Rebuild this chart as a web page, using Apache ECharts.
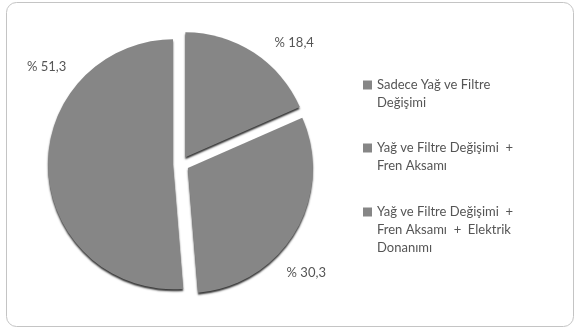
<!DOCTYPE html>
<html>
<head>
<meta charset="utf-8">
<script src="https://cdn.jsdelivr.net/npm/echarts@6/dist/echarts.min.js"></script>
<style>
html,body{margin:0;padding:0;background:#fff;}
#chart{width:575px;height:329px;}
</style>
</head>
<body>
<div id="chart"></div>
<script>
const categories = [
  'Sadece Yağ ve Filtre\nDeğişimi',
  'Yağ ve Filtre Değişimi  +\nFren Aksamı',
  'Yağ ve Filtre Değişimi  +\nFren Aksamı  +  Elektrik\nDonanımı'
];
const values = [18.4, 30.3, 51.3];
const valueLabels = ['% 18,4', '% 30,3', '% 51,3'];

const FONT = 'Lato';
const TXT = '#555555';
const SLICE = '#868686';
const CX = 181, CY = 164, R = 125;
// label placement (angle clockwise from 12 o'clock, distance from centre)
const LABEL_ANGLES = [43, 131, 306];
const LABEL_DIST = 166;

const chart = echarts.init(document.getElementById('chart'), null, {renderer: 'canvas'});

const legendTops = [58, 121, 167];
const legends = categories.map((name, i) => {
  const n = name.split('\n').length;
  return {
    show: true,
    orient: 'vertical',
    left: 363,
    top: legendTops[i],
    padding: 0,
    itemWidth: 9,
    itemHeight: 9,
    itemGap: 4,
    icon: 'rect',
    selectedMode: false,
    data: [name],
    formatter: nm => '\n'.repeat(n - 1) + nm,
    textStyle: {fontFamily: FONT, fontSize: 13, color: TXT, lineHeight: 18}
  };
});

chart.setOption({
  animation: false,
  backgroundColor: '#fff',
  graphic: [{
    type: 'rect',
    shape: {x: 6.5, y: 2.5, width: 567, height: 324, r: 10},
    style: {fill: 'none', stroke: '#c4c4c4', lineWidth: 1},
    silent: true,
    z: -10
  }],
  legend: legends,
  series: [{
    type: 'pie',
    center: [CX, CY],
    radius: R,
    startAngle: 90,
    clockwise: true,
    selectedMode: 'multiple',
    selectedOffset: 8,
    label: {show: false},
    labelLine: {show: false},
    itemStyle: {
      color: SLICE,
      borderWidth: 0,
      shadowColor: 'rgba(0,0,0,0.8)',
      shadowBlur: 2,
      shadowOffsetY: 2
    },
    emphasis: {disabled: true},
    select: {itemStyle: {color: SLICE}},
    data: categories.map((c, i) => ({name: c, value: values[i], selected: true}))
  }, {
    type: 'pie',
    center: [CX, CY],
    radius: R,
    startAngle: 90,
    clockwise: true,
    silent: true,
    selectedMode: false,
    avoidLabelOverlap: false,
    z: 3,
    itemStyle: {color: 'rgba(0,0,0,0)', borderWidth: 0},
    label: {
      show: true,
      position: 'outside',
      formatter: p => valueLabels[p.dataIndex],
      fontFamily: FONT,
      fontSize: 13,
      color: TXT
    },
    labelLine: {show: false},
    labelLayout: p => {
      const a = LABEL_ANGLES[p.dataIndex] * Math.PI / 180;
      return {
        x: CX + LABEL_DIST * Math.sin(a),
        y: CY - LABEL_DIST * Math.cos(a),
        align: 'center',
        verticalAlign: 'middle'
      };
    },
    emphasis: {disabled: true},
    data: categories.map((c, i) => ({name: c, value: values[i]}))
  }]
});
</script>
</body>
</html>
